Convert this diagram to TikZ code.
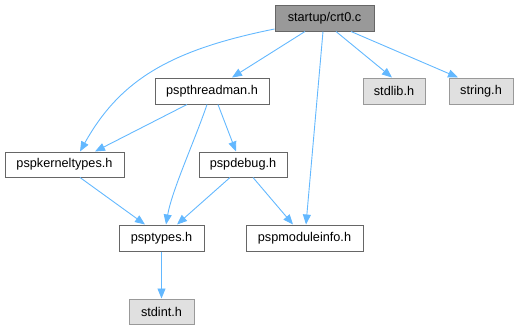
\documentclass[tikz,border=0pt]{standalone}
\usepackage{fontspec}
\setmainfont{Liberation Sans}
\usetikzlibrary{arrows.meta}
\definecolor{edgeblue}{HTML}{63B8FF}
\definecolor{rootfill}{HTML}{999999}
\definecolor{extfill}{HTML}{E0E0E0}
\definecolor{borderdark}{HTML}{666666}
\definecolor{borderlight}{HTML}{999999}
\tikzset{
  file/.style={draw=borderdark, fill=white, line width=1bp, inner sep=0pt,
    font=\fontsize{12.7bp}{15bp}\selectfont, text=black},
  extfile/.style={file, draw=borderlight, fill=extfill},
  rootfile/.style={file, draw=borderdark, fill=rootfill},
  dep/.style={draw=edgeblue, line width=0.9bp,
    -{Triangle[length=10bp,width=8bp]}},
}
% a file box given its corners and its label
\newcommand{\filebox}[7]{%
  \node[#2, minimum width={(#5-#3)*1bp}, minimum height={(#6-#4)*1bp}] (#1)
    at ({(#3+#5)/2},{(#4+#6)/2}) {#7};}
\begin{document}
\begin{tikzpicture}[x=1bp,y=-1bp]
\useasboundingbox (0,0) rectangle (519,329);
\filebox{crt}{rootfile}{275}{5}{374}{31}{startup/crt0.c}
\filebox{thr}{file}{155}{78}{269}{104}{pspthreadman.h}
\filebox{stdlib}{extfile}{363}{78}{425}{104}{stdlib.h}
\filebox{string}{extfile}{449}{78}{513}{104}{string.h}
\filebox{kern}{file}{5}{152}{124}{177}{pspkerneltypes.h}
\filebox{dbg}{file}{199}{152}{287}{177}{pspdebug.h}
\filebox{types}{file}{119}{225}{204}{251}{psptypes.h}
\filebox{mod}{file}{246}{225}{363}{251}{pspmoduleinfo.h}
\filebox{stdint}{extfile}{129}{299}{194}{324}{stdint.h}
% dependencies
\draw[dep] (crt.south -| 305,0) -- (thr.north -| 232,0);
\draw[dep] (crt.west |- 0,29) .. controls (170,50) and (120,80) .. (kern.north -| 80,0);
\draw[dep] (crt.south -| 336,0) -- (stdlib.north -| 392,0);
\draw[dep] (crt.south -| 351,0) -- (string.north -| 458,0);
\draw[dep] (crt.south -| 323,0) -- (mod.north -| 306,0);
\draw[dep] (thr.south -| 187,0) -- (kern.north -| 95,0);
\draw[dep] (thr.south -| 207,0) .. controls (195,140) and (172,190) .. (types.north -| 166,0);
\draw[dep] (thr.south -| 218,0) -- (dbg.north -| 236,0);
\draw[dep] (kern.south -| 80,0) -- (types.north -| 145,0);
\draw[dep] (dbg.south -| 230,0) -- (types.north -| 177,0);
\draw[dep] (dbg.south -| 253,0) -- (mod.north -| 293,0);
\draw[dep] (types) -- (stdint);
\end{tikzpicture}
\end{document}
